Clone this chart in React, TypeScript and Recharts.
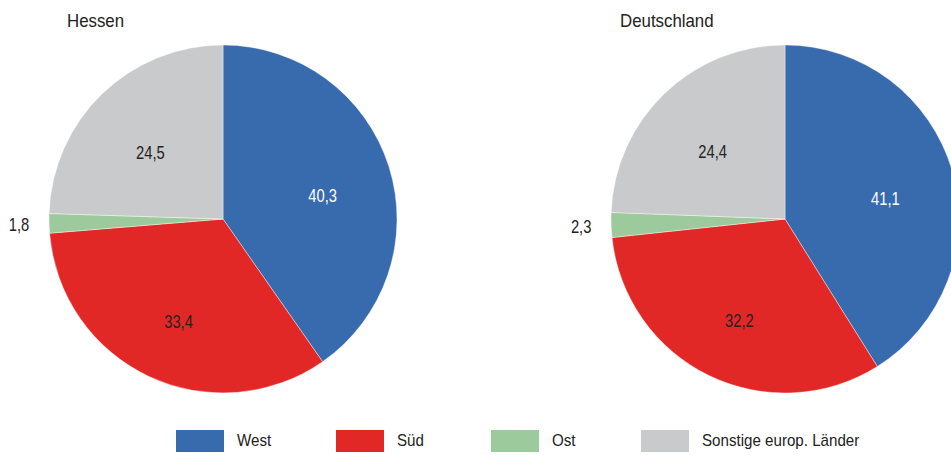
import { PieChart, Pie, Cell } from "recharts";

const categories = ["West", "Süd", "Ost", "Sonstige europ. Länder"];
const hessenValues = [40.3, 33.4, 1.8, 24.5];
const deutschlandValues = [41.1, 32.2, 2.3, 24.4];
const regionTitles = ["Hessen", "Deutschland"];

const colors = ["#386aae", "#e22826", "#9dca9c", "#c9cacc"];
const labelColors = ["#ffffff", "#222222", "#222222", "#222222"];
const font = '"Liberation Sans", Arial, sans-serif';
const RADIAN = Math.PI / 180;

const toRows = (values: number[]) =>
  categories.map((name, i) => ({ name, value: values[i] }));

const fmt = (v: number) => v.toFixed(1).replace(".", ",");

// narrow-looking labels, like the original
const renderLabel = (props: any) => {
  const { cx, cy, midAngle, outerRadius, value, index } = props;
  const small = value < 5;
  const r = small ? outerRadius + 30 : outerRadius * 0.6;
  const x = cx + r * Math.cos(-midAngle * RADIAN);
  const y = cy + r * Math.sin(-midAngle * RADIAN) + (small ? 0 : 8);
  return (
    <text
      transform={`translate(${x},${y}) scale(0.82,1)`}
      x={0}
      y={0}
      fill={labelColors[index]}
      textAnchor="middle"
      dominantBaseline="central"
      fontSize={18}
      fontFamily={font}
    >
      {fmt(value)}
    </text>
  );
};

const pieCenters = [223, 785];
const titleX = [67, 620];
const legendX = [176, 336, 491, 641];

export default function App() {
  const datasets = [toRows(hessenValues), toRows(deutschlandValues)];

  return (
    <div
      style={{
        position: "absolute",
        left: 0,
        top: 0,
        width: 951,
        height: 455,
        overflow: "hidden",
        background: "#fff",
        fontFamily: font,
        color: "#222",
      }}
    >
      <PieChart width={951} height={455} margin={{ top: 0, right: 0, bottom: 0, left: 0 }}>
        {datasets.map((rows, k) => (
          <Pie
            key={regionTitles[k]}
            data={rows}
            dataKey="value"
            nameKey="name"
            cx={pieCenters[k]}
            cy={219}
            outerRadius={174}
            startAngle={90}
            endAngle={-270}
            stroke="#ffffff"
            strokeWidth={0.4}
            label={renderLabel}
            labelLine={false}
            isAnimationActive={false}
          >
            {rows.map((row, i) => (
              <Cell key={row.name} fill={colors[i]} />
            ))}
          </Pie>
        ))}
      </PieChart>

      {regionTitles.map((t, k) => (
        <div
          key={t}
          style={{
            position: "absolute",
            left: titleX[k],
            top: 10,
            fontSize: 18.5,
            lineHeight: "22px",
            transform: "scaleX(0.91)",
            transformOrigin: "left center",
          }}
        >
          {t}
        </div>
      ))}

      {categories.map((c, i) => (
        <div
          key={c}
          style={{ position: "absolute", left: legendX[i], top: 430, display: "flex", alignItems: "center" }}
        >
          <div style={{ width: 48, height: 22, background: colors[i] }} />
          <span
            style={{
              marginLeft: 13,
              fontSize: 17,
              lineHeight: "22px",
              whiteSpace: "nowrap",
              transform: "scaleX(0.89)",
              transformOrigin: "left center",
            }}
          >
            {c}
          </span>
        </div>
      ))}
    </div>
  );
}
